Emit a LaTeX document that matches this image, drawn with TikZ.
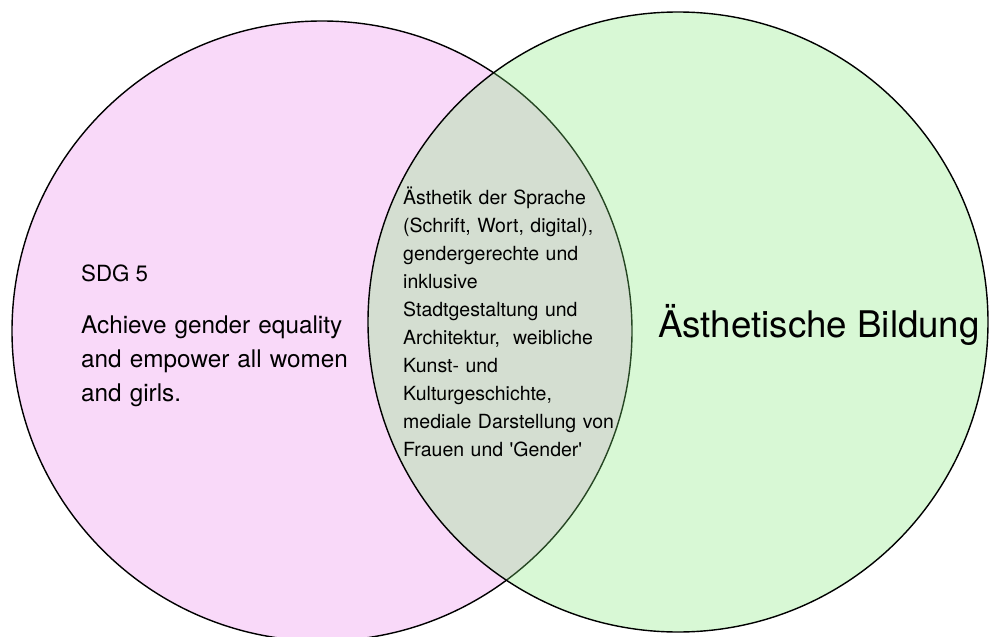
\documentclass[tikz,border=0pt]{standalone}
\usepackage{fontspec}
\setmainfont{TeX Gyre Heros}
\usepackage{tikz}
\usetikzlibrary{positioning}
\definecolor{sdgpink}{RGB}{249,217,249}
\definecolor{aesgreen}{RGB}{128,235,118}

\begin{document}
\begin{tikzpicture}[x=1pt, y=-1pt,
  vennset/.style={circle, draw=black, line width=1.4pt, minimum size=620pt, inner sep=0pt},
  settext/.style={anchor=base west, align=left, inner sep=0pt}]
 \useasboundingbox[fill=white] (0,0) rectangle (989,637);
 % the two sets
 \node[vennset, fill=sdgpink] (sdg) at (322,331) {};
 \node[vennset, fill=aesgreen, fill opacity=0.3] (aes) at (678,322) {};
 % texts
 \node[settext, font=\fontsize{22.3}{26}\selectfont] (goal) at (81,281) {SDG 5};
 \node[settext, text width=280pt, font=\fontsize{24.3}{34}\selectfont] (goaltext) at (81,333)
  {Achieve gender equality\\ and empower all women\\ and girls.};
 \node[settext, text width=215pt, font=\fontsize{19.5}{28.1}\selectfont] (both) at (403,204)
  {Ästhetik der Sprache\\ (Schrift, Wort, digital),\\ gendergerechte und\\ inklusive\\
   Stadtgestaltung und\\ Architektur, \ weibliche\\ Kunst- und\\ Kulturgeschichte,\\
   mediale Darstellung von\\ Frauen und \textquotesingle Gender\textquotesingle};
 \node[settext, font=\fontsize{36.7}{40}\selectfont] (aestitle) at (658,337) {Ästhetische Bildung};
\end{tikzpicture}
\end{document}
